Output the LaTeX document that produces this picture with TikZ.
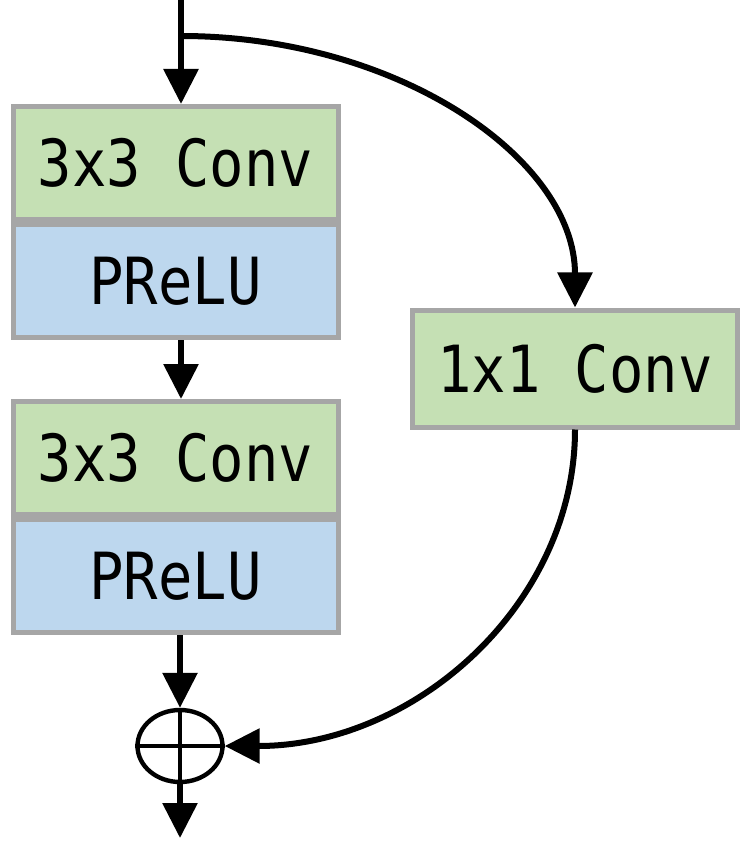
\documentclass[tikz,border=0pt]{standalone}
\usepackage{fontspec}
\setmonofont[FakeStretch=0.88]{DejaVu Sans Mono}
\usetikzlibrary{arrows.meta, positioning, shapes.geometric}
\definecolor{convgreen}{HTML}{C5E0B4}
\definecolor{actblue}{HTML}{BDD7EE}
\definecolor{edgegray}{HTML}{A6A6A6}

\begin{document}
\begin{tikzpicture}[
  x=0.5pt, y=-0.5pt,
  block/.style={rectangle, draw=edgegray, line width=2.5pt, minimum width=162.5pt, minimum height=56.5pt, inner sep=0pt, font=\ttfamily\fontsize{32.5}{36}\selectfont},
  conv/.style={block, fill=convgreen},
  act/.style={block, fill=actblue},
  arrow/.style={-{Triangle[width=17pt, length=17.5pt]}, line width=3pt},
  adder/.style={ellipse, draw, line width=2.2pt, minimum width=42.5pt, minimum height=36pt, inner sep=0pt}
]
  \useasboundingbox (0,0) rectangle (746,844);

  % main branch
  \node[conv] (conv1) at (175.5,163) {3x3 Conv};
  \node[act, below=0pt of conv1] (act1) {PReLU};
  \node[conv] (conv2) at (175.5,458) {3x3 Conv};
  \node[act, below=0pt of conv2] (act2) {PReLU};

  % shortcut branch
  \node[conv, minimum height=58.5pt] (conv3) at (575,368.5) {1x1 Conv};

  \node[adder] (sum) at (180,746) {};
  \draw[line width=2.2pt] (sum.north) -- (sum.south) (sum.west) -- (sum.east);

  \coordinate (input) at (181,0);
  \coordinate (split) at (181,36);
  \coordinate (output) at (180,838);

  \draw[arrow] (input) -- (input |- conv1.north);
  \draw[arrow] (split) .. controls (398,36) and (575,159) .. (conv3.north);
  \draw[arrow] (act1.south -| input) -- (conv2.north -| input);
  \draw[arrow] (act2.south -| sum) -- (sum.north);
  \draw[arrow] (conv3.south) .. controls (575,603) and (416,746) .. (sum.east);
  \draw[arrow] (sum.south) -- (output);
\end{tikzpicture}
\end{document}
